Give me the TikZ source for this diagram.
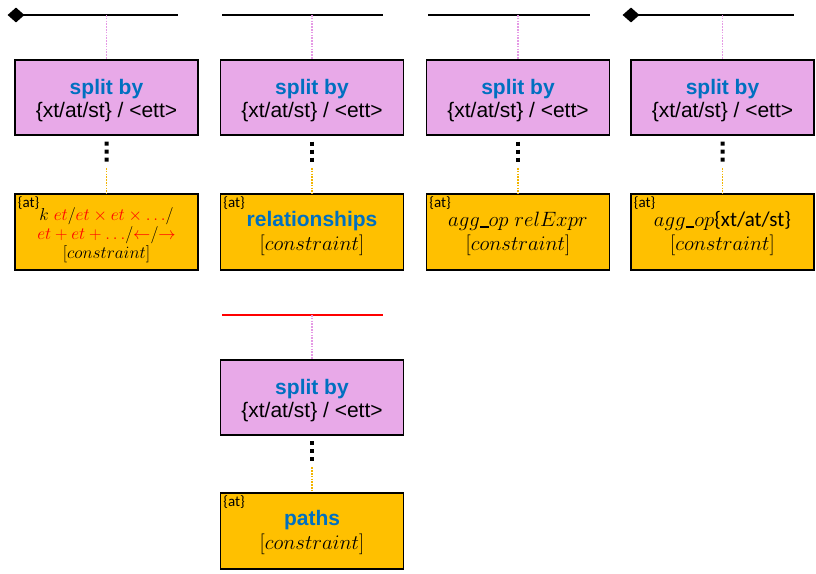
\documentclass[tikz,border=0pt]{standalone}
\usepackage{fontspec}
\setmainfont{Liberation Sans}
\newfontfamily\carlito{Carlito}
\usetikzlibrary{shapes.geometric,calc}
\definecolor{splitfill}{HTML}{E8A9E8}
\definecolor{resfill}{HTML}{FFC000}
\definecolor{hdblue}{HTML}{0070C0}
\definecolor{pinkline}{HTML}{E59AE5}
\definecolor{orangeline}{HTML}{F2B400}
\newcommand\usc{\mbox{\rule[-0.6pt]{0.42em}{1.8pt}}}
\newcommand\rd[1]{\textcolor{red}{#1}}
\newcommand\tstrut[1]{\rule{0pt}{#1}}
\begin{document}
\begin{tikzpicture}[x=1pt,y=1pt,
  splitbox/.style={draw=black, line width=1.6pt, fill=splitfill, minimum width=183pt, minimum height=75pt, inner sep=0pt, align=center, font=\fontsize{21}{23.5}\selectfont},
  resbox/.style={draw=black, line width=1.6pt, fill=resfill, minimum width=183pt, minimum height=76pt, inner sep=0pt, align=center, font=\fontsize{21}{24}\selectfont},
  attag/.style={anchor=north west, inner sep=0pt, font=\carlito\fontsize{15}{15}\selectfont},
  topline/.style={line width=1.3pt},
  endmark/.style={diamond, fill=black, minimum width=17pt, minimum height=15pt, inner sep=0pt},
  pinkdot/.style={draw=pinkline, line width=1.4pt, dash pattern=on 1.6pt off 1.2pt},
  orangedot/.style={draw=orangeline, line width=1.4pt, dash pattern=on 1.6pt off 1.2pt},
  blackdots/.style={draw=black, line width=4pt, dash pattern=on 4pt off 4pt}
]
\useasboundingbox (0,0) rectangle (816,-573);

% top lines
\node[endmark] (d1) at (16,-15) {};
\coordinate (e1) at (178,-15);
\draw[topline] (d1.center) -- (e1);
\coordinate (s2) at (222,-15);
\coordinate (e2) at (383,-15);
\draw[topline] (s2) -- (e2);
\coordinate (s3) at (428,-15);
\coordinate (e3) at (590,-15);
\draw[topline] (s3) -- (e3);
\node[endmark] (d4) at (631,-15) {};
\coordinate (e4) at (794,-15);
\draw[topline] (d4.center) -- (e4);
\coordinate (s5) at (222,-315);
\coordinate (e5) at (383,-315);
\draw[topline, red] (s5) -- (e5);

% line attach points
\coordinate (l1) at (106.5,-15);
\coordinate (l2) at (312,-15);
\coordinate (l3) at (518,-15);
\coordinate (l4) at (722.5,-15);
\coordinate (l5) at (312,-315);

% split boxes
\newcommand\splittext{\textcolor{hdblue}{\bfseries\tstrut{21.5pt}split by}\\\{xt/at/st\} / <ett>}
\node[splitbox] (p1) at (106.5,-97.5) {\splittext};
\node[splitbox] (p2) at (312,-97.5) {\splittext};
\node[splitbox] (p3) at (518,-97.5) {\splittext};
\node[splitbox] (p4) at (722.5,-97.5) {\splittext};
\node[splitbox] (p5) at (312,-397.5) {\splittext};

% result boxes
\node[resbox, font=\fontsize{18.5}{19}\selectfont] (o1) at (106.5,-232) {\tstrut{20pt}$k\ \rd{et}/\rd{et\times et\times \ldots}/$\\[0pt]$\rd{et+et+\ldots}/\rd{\leftarrow}/\rd{\rightarrow}$\\[0pt]$[constraint]$};
\node[resbox] (o2) at (312,-232) {\textcolor{hdblue}{\bfseries\tstrut{19pt}relationships}\\$[constraint]$};
\node[resbox] (o3) at (518,-232) {\tstrut{19pt}$agg\usc op\ relExpr$\\$[constraint]$};
\node[resbox] (o4) at (722.5,-232) {\tstrut{19pt}$agg\usc op${\carlito\{xt/at/st\}}\\$[constraint]$};
\node[resbox] (o5) at (312,-531) {\textcolor{hdblue}{\bfseries\tstrut{19pt}paths}\\$[constraint]$};

% at tags
\foreach \b in {o1,o2,o3,o4,o5}{
  \node[attag] (t\b) at ([xshift=3.5pt,yshift=-3pt]\b.north west) {\{at\}};
}

% connectors
\foreach \i in {1,...,5}{
  \draw[pinkdot] (l\i) -- (p\i.north);
  \draw[blackdots] ($(p\i.south)!0.1!(o\i.north)$) -- ($(p\i.south)!0.46!(o\i.north)$);
  \draw[orangedot] ($(p\i.south)!0.56!(o\i.north)$) -- (o\i.north);
}
\end{tikzpicture}
\end{document}
